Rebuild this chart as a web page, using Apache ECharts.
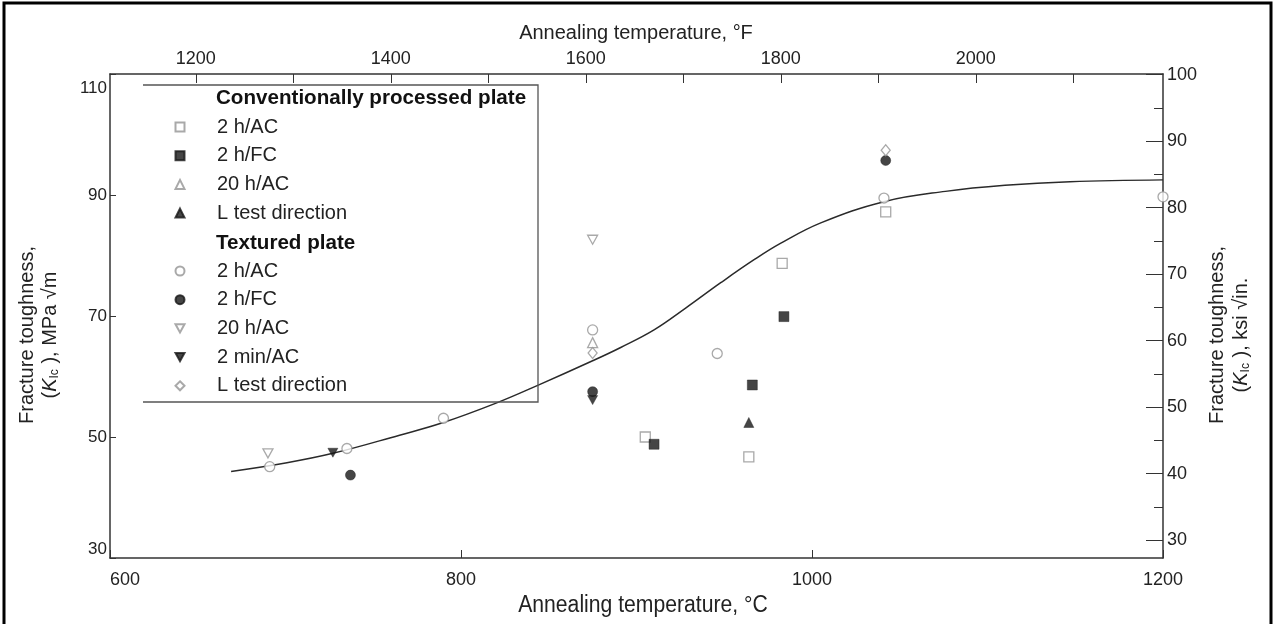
<!DOCTYPE html>
<html>
<head>
<meta charset="utf-8">
<script src="https://cdn.jsdelivr.net/npm/echarts@6/dist/echarts.min.js"></script>
<style>html,body{margin:0;padding:0;background:#fff}#c{width:1274px;height:624px}</style>
</head>
<body>
<div id="c"></div>
<script>
// ---- data (°C, MPa·√m) ----
const convAC_T = [905, 964, 983, 1042];
const convAC_K = [50.0, 46.7, 78.7, 87.2];
const convFC_T = [910, 966, 984];
const convFC_K = [48.8, 58.6, 69.9];
const conv20_T = [875];
const conv20_K = [65.6];
const convL_T = [964];
const convL_K = [52.4];
const texAC_T = [691, 735, 790, 875, 946, 1041, 1200];
const texAC_K = [45.1, 48.1, 53.1, 67.7, 63.8, 89.5, 89.7];
const texFC_T = [737, 875, 1042];
const texFC_K = [43.7, 57.5, 95.7];
const tex20_T = [690, 875];
const tex20_K = [47.3, 82.6];
const texMin_T = [727, 875];
const texMin_K = [47.4, 56.1];
const texL_T = [875, 1042];
const texL_K = [63.9, 97.4];
const curveT = [669, 700, 727, 765, 789, 820, 845, 875, 891, 910, 928, 948, 967, 982, 1005, 1041, 1076, 1110, 1147, 1200];
const curveK = [44.3, 45.7, 47.3, 50.3, 52.3, 55.6, 58.7, 62.6, 64.8, 67.7, 71.3, 75.5, 79.3, 82.0, 85.4, 88.9, 90.6, 91.6, 92.2, 92.5];
const xTicksC = [600, 800, 1000, 1200];
const xTicksF = [1200, 1400, 1600, 1800, 2000];
const xMinorF = [1200, 1300, 1400, 1500, 1600, 1700, 1800, 1900, 2000, 2100];
const yTicksMPa = [30, 50, 70, 90, 110];
const yTicksKsi = [30, 40, 50, 60, 70, 80, 90, 100];
const yMinorKsi = [35, 45, 55, 65, 75, 85, 95];

const zip = (a, b) => a.map((v, i) => [v, b[i]]);
const GRAY = '#939393', DARK = '#161616', AX = '#333';
const FONT = "'Liberation Sans', Arial, sans-serif";
const INV_TRI = 'path://M0,0L10,0L5,9Z';

const displayName = {
  'c_ac': '2 h/AC', 'c_fc': '2 h/FC', 'c_20': '20 h/AC', 'c_l': 'L test direction',
  't_ac': '2 h/AC', 't_fc': '2 h/FC', 't_20': '20 h/AC', 't_min': '2 min/AC', 't_l': 'L test direction'
};
function sc(name, T, K, symbol, open) {
  return {
    type: 'scatter', name: name, data: zip(T, K), symbol: symbol,
    symbolSize: symbol === 'diamond' ? [9, 11] : 10, symbolKeepAspect: true,
    itemStyle: open ? { color: '#fff', borderColor: GRAY, borderWidth: 1.3 } : { color: DARK, borderColor: DARK, borderWidth: 0.5 },
    z: 3, clip: false
  };
}

const chart = echarts.init(document.getElementById('c'), null, { renderer: 'canvas' });
const legendText = { fontFamily: FONT, fontSize: 20, color: '#222', lineHeight: 22, padding: [0, 0, 0, 27.5] };
const num = v => String(v);
const option = {
  animation: false,
  backgroundColor: '#fff',
  grid: { left: 110, right: 111, top: 74, bottom: 66, containLabel: false },
  xAxis: [
    { type: 'value', position: 'bottom', min: 600, max: 1200, interval: 200,
      axisLine: { lineStyle: { color: AX, width: 1.5 } },
      axisTick: { inside: true, length: 8, lineStyle: { color: AX }, customValues: xTicksC },
      axisLabel: { customValues: xTicksC, formatter: num, fontFamily: FONT, fontSize: 18, color: '#222', margin: 13, alignMinLabel: 'left' },
      splitLine: { show: false } },
    { type: 'value', position: 'top', min: 1112, max: 2192,
      axisLine: { lineStyle: { color: AX, width: 1.5 } },
      axisTick: { inside: true, length: 9, lineStyle: { color: AX }, customValues: xMinorF },
      axisLabel: { customValues: xTicksF, formatter: num, fontFamily: FONT, fontSize: 18, color: '#222', margin: 6 },
      splitLine: { show: false } }
  ],
  yAxis: [
    { type: 'value', position: 'left', min: 30, max: 110, interval: 20,
      axisLine: { show: true, lineStyle: { color: AX, width: 1.5 } },
      axisTick: { show: true, inside: true, length: 6, lineStyle: { color: AX }, customValues: yTicksMPa },
      axisLabel: { customValues: yTicksMPa, fontFamily: FONT, fontSize: 17, color: '#222', margin: 3,
        formatter: v => v === 110 ? '{t|110}' : String(v),
        rich: { t: { fontFamily: FONT, fontSize: 17, color: '#222', padding: [6, 0, 0, 0] } },
        verticalAlignMinLabel: 'bottom', verticalAlignMaxLabel: 'top' },
      splitLine: { show: false } },
    { type: 'value', position: 'right', min: 27.30, max: 100.11,
      axisLine: { show: true, lineStyle: { color: AX, width: 1.5 } },
      axisTick: { show: true, inside: true, length: 17, lineStyle: { color: AX }, customValues: yTicksKsi },
      axisLabel: { customValues: yTicksKsi, formatter: num, fontFamily: FONT, fontSize: 18, color: '#222', margin: 4 },
      splitLine: { show: false } },
    { type: 'value', position: 'right', min: 27.30, max: 100.11,
      axisLine: { show: false },
      axisTick: { show: true, inside: true, length: 9, lineStyle: { color: AX }, customValues: yMinorKsi },
      axisLabel: { show: false },
      splitLine: { show: false } }
  ],
  legend: [
    { orient: 'vertical', left: 174.5, top: 116, padding: 0, itemWidth: 9, itemHeight: 9, itemGap: 6.7,
      data: ['c_ac', 'c_fc', 'c_20', 'c_l'], formatter: n => displayName[n], textStyle: legendText,
      selectedMode: false },
    { orient: 'vertical', left: 174.5, top: 260, padding: 0, itemWidth: 9, itemHeight: 9, itemGap: 6.7,
      data: ['t_ac', 't_fc', 't_20', 't_min', 't_l'], formatter: n => displayName[n], textStyle: legendText,
      selectedMode: false }
  ],
  graphic: [
    { type: 'polyline', z: 10, shape: { points: [[143, 85], [538, 85], [538, 402], [143, 402]] },
      style: { fill: null, stroke: '#555', lineWidth: 1.3 } },
    { type: 'text', z: 10, x: 216, y: 98, style: { text: 'Conventionally processed plate', font: "bold 20.6px " + FONT, fill: '#111', verticalAlign: 'middle' } },
    { type: 'text', z: 10, x: 216, y: 243, style: { text: 'Textured plate', font: "bold 20.6px " + FONT, fill: '#111', verticalAlign: 'middle' } },
    { type: 'text', x: 636, y: 33, style: { text: 'Annealing temperature, °F', font: "20px " + FONT, fill: '#222', align: 'center', verticalAlign: 'middle' } },
    { type: 'text', x: 643, y: 606, scaleX: 0.92, style: { text: 'Annealing temperature, °C', font: "23px " + FONT, fill: '#222', align: 'center', verticalAlign: 'middle' } },
    { type: 'text', x: 27, y: 335, rotation: Math.PI / 2, style: { text: 'Fracture toughness,', font: "20px " + FONT, fill: '#222', align: 'center', verticalAlign: 'middle' } },
    { type: 'text', x: 50, y: 335, rotation: Math.PI / 2, style: {
        text: '{n|(}{i|K}{s|Ic}{n| ), MPa √m}', align: 'center', verticalAlign: 'middle',
        rich: { n: { font: "20px " + FONT, fill: '#222' }, i: { font: "italic 20px " + FONT, fill: '#222' }, s: { font: "12px " + FONT, fill: '#222', padding: [9, 0, 0, 0] } } } },
    { type: 'text', x: 1217, y: 335, rotation: Math.PI / 2, style: { text: 'Fracture toughness,', font: "20px " + FONT, fill: '#222', align: 'center', verticalAlign: 'middle' } },
    { type: 'text', x: 1241, y: 335, rotation: Math.PI / 2, style: {
        text: '{n|(}{i|K}{s|Ic}{n| ), ksi √in.}', align: 'center', verticalAlign: 'middle',
        rich: { n: { font: "20px " + FONT, fill: '#222' }, i: { font: "italic 20px " + FONT, fill: '#222' }, s: { font: "12px " + FONT, fill: '#222', padding: [9, 0, 0, 0] } } } },
    { type: 'polyline', shape: { points: [[4, 624], [4, 3], [1271, 3], [1271, 624]] }, style: { fill: null, stroke: '#000', lineWidth: 3 } }
  ],
  series: [
    { type: 'line', name: 'curve', data: zip(curveT, curveK), smooth: 0.4, showSymbol: false, symbol: 'none',
      lineStyle: { color: '#2a2a2a', width: 1.5 }, z: 2 },
    sc('c_ac', convAC_T, convAC_K, 'rect', true),
    sc('c_fc', convFC_T, convFC_K, 'rect', false),
    sc('c_20', conv20_T, conv20_K, 'triangle', true),
    sc('c_l', convL_T, convL_K, 'triangle', false),
    sc('t_ac', texAC_T, texAC_K, 'circle', true),
    sc('t_fc', texFC_T, texFC_K, 'circle', false),
    sc('t_20', tex20_T, tex20_K, INV_TRI, true),
    sc('t_min', texMin_T, texMin_K, INV_TRI, false),
    sc('t_l', texL_T, texL_K, 'diamond', true)
  ]
};
chart.setOption(option);
</script>
</body>
</html>
